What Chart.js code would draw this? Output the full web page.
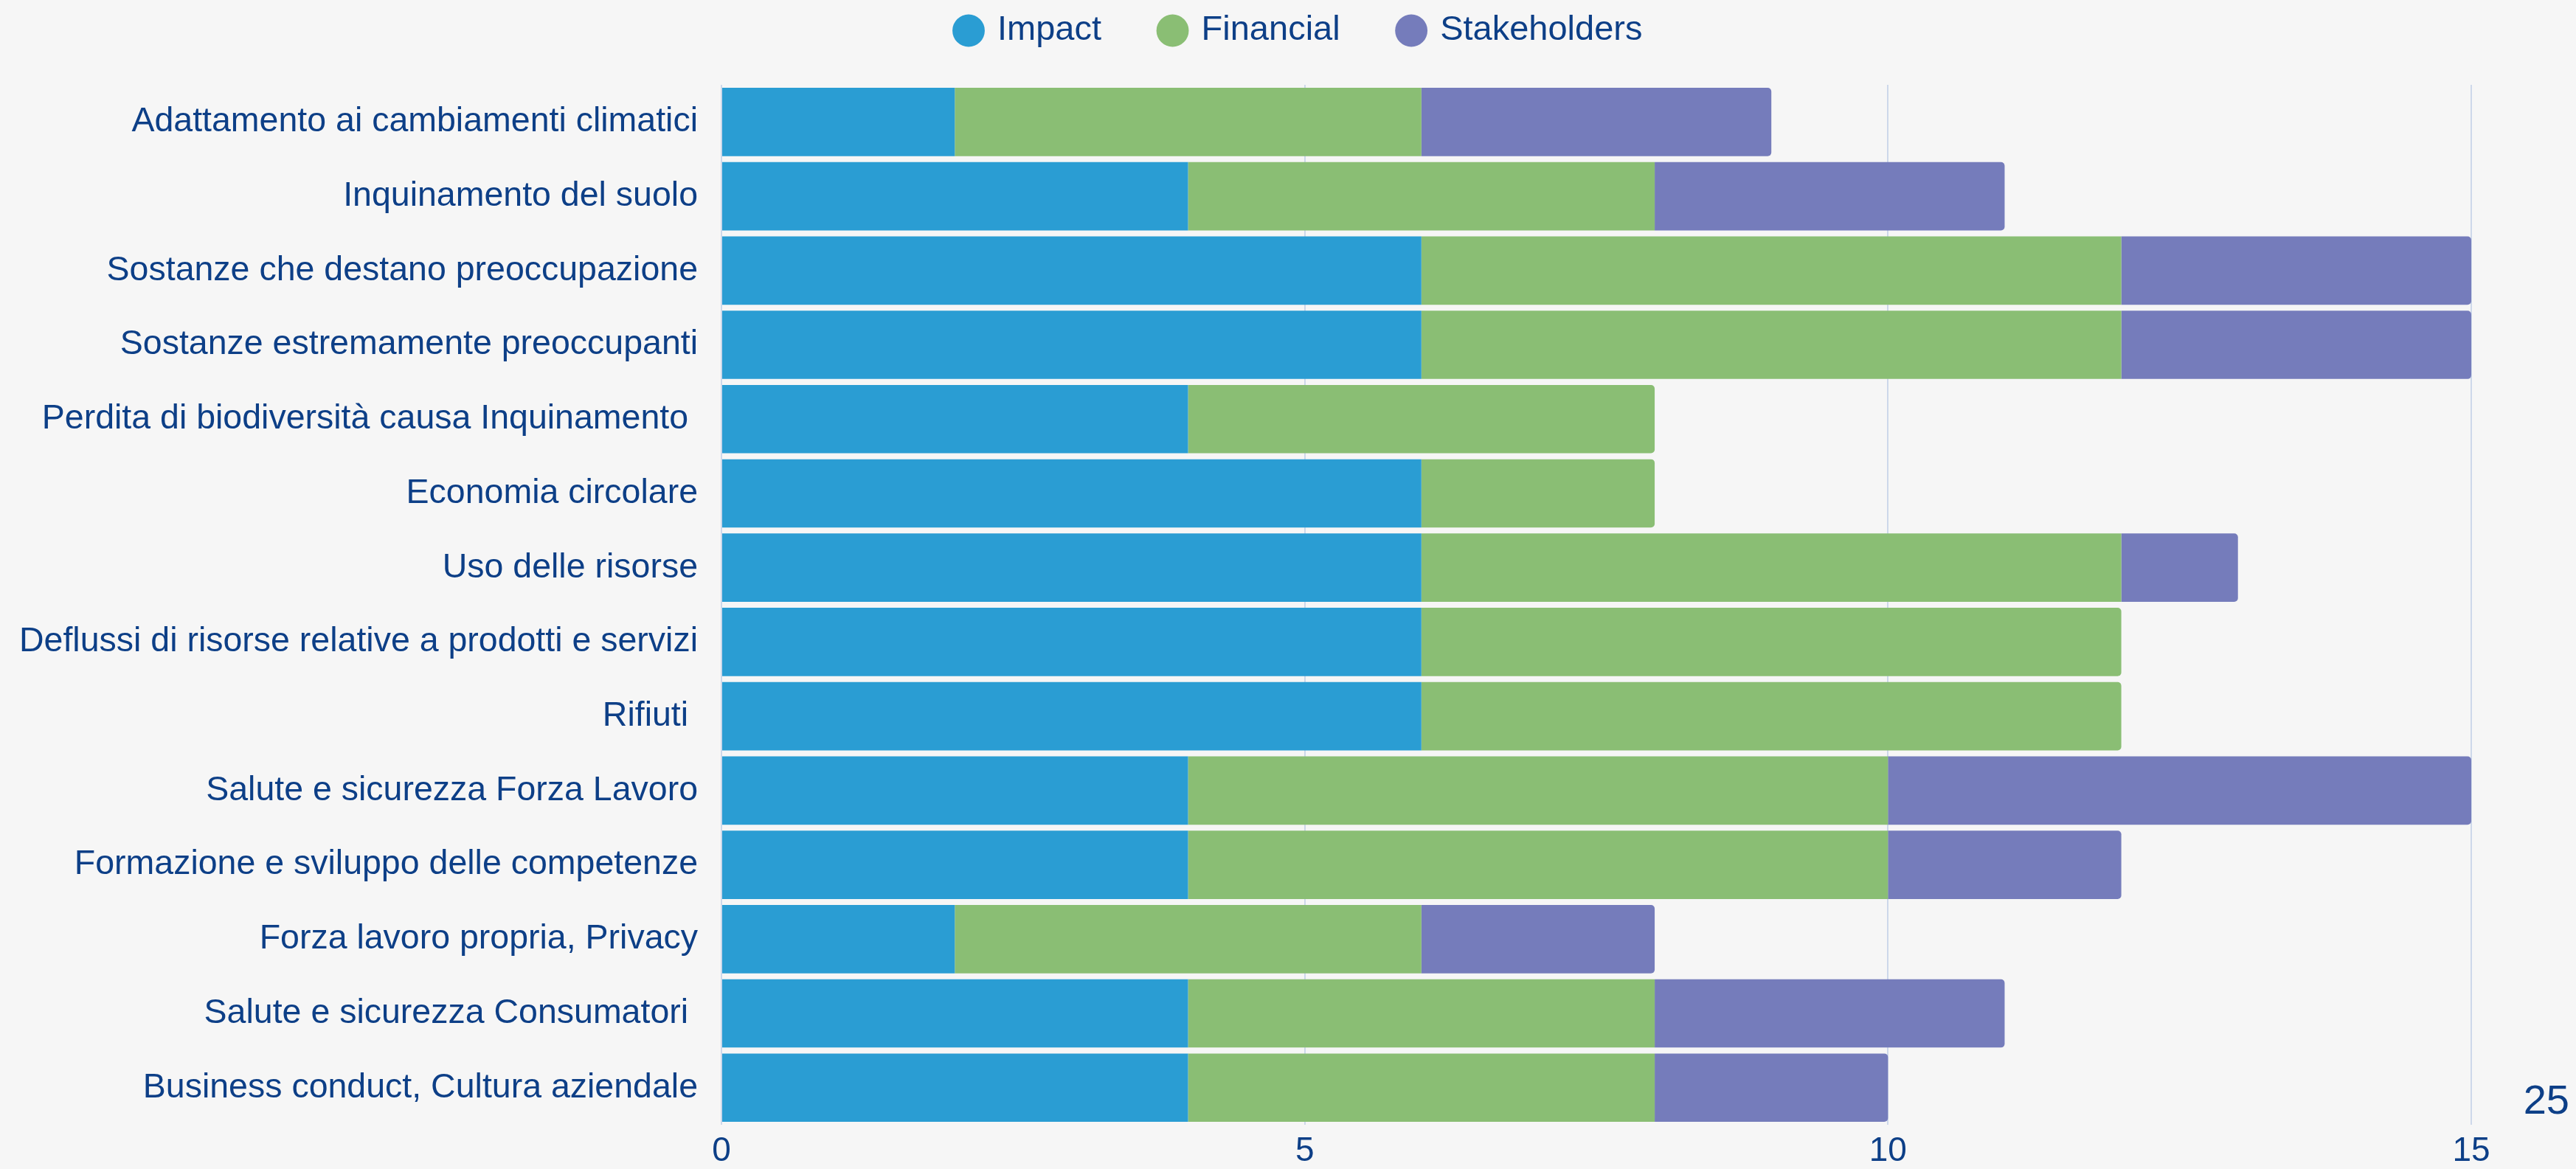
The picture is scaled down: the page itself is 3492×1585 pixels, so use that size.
<!DOCTYPE html>
<html>
<head>
<meta charset="utf-8">
<script src="https://cdn.jsdelivr.net/npm/chart.js@4.4.1/dist/chart.umd.min.js"></script>
<style>
  html, body { margin: 0; padding: 0; background: #f6f6f6; }
  #wrap { position: relative; width: 3492px; height: 1585px; }
  #page { position: absolute; right: 9px; top: 1463px; font: 56px "Liberation Sans", Arial, sans-serif; line-height: 1; color: #0d3f87; }
</style>
</head>
<body>
<div id="wrap">
  <canvas id="chart" width="3492" height="1585"></canvas>
  <div id="page">25</div>
</div>
<script>
const categories = [
  'Adattamento ai cambiamenti climatici',
  'Inquinamento del suolo',
  'Sostanze che destano preoccupazione',
  'Sostanze estremamente preoccupanti',
  'Perdita di biodiversità causa Inquinamento ',
  'Economia circolare',
  'Uso delle risorse',
  'Deflussi di risorse relative a prodotti e servizi',
  'Rifiuti ',
  'Salute e sicurezza Forza Lavoro',
  'Formazione e sviluppo delle competenze',
  'Forza lavoro propria, Privacy',
  'Salute e sicurezza Consumatori ',
  'Business conduct, Cultura aziendale'
];
const impact       = [2, 4, 6, 6, 4, 6, 6, 6, 6, 4, 4, 2, 4, 4];
const financial    = [4, 4, 6, 6, 4, 2, 6, 6, 6, 6, 6, 4, 4, 4];
const stakeholders = [3, 3, 3, 3, 0, 0, 1, 0, 0, 5, 2, 2, 3, 2];
const xTicks = [0, 5, 10, 15];

const textColor = '#0d3f87';
const fontFamily = '"Liberation Sans", Arial, sans-serif';

// legend: fixed height; items drawn higher and centred over the plot
const legendSpacing = {
  id: 'legendSpacing',
  beforeInit(chart) {
    const lg = chart.legend;
    const fit = lg.fit;
    lg.fit = function () { fit.call(lg); this.height = 115; };
    const draw = lg.draw;
    lg.draw = function () {
      const { top, left, right } = lg;
      lg.top = top - 63;
      lg.left = left + 87;
      lg.right = right + 87;
      draw.call(lg);
      lg.top = top; lg.left = left; lg.right = right;
    };
  }
};

new Chart(document.getElementById('chart').getContext('2d'), {
  type: 'bar',
  data: {
    labels: categories,
    datasets: [
      { label: 'Impact', data: impact, backgroundColor: '#2a9dd3' },
      { label: 'Financial', data: financial, backgroundColor: '#8abe74' },
      { label: 'Stakeholders', data: stakeholders, backgroundColor: '#757cbb' }
    ]
  },
  options: {
    responsive: false,
    animation: false,
    indexAxis: 'y',
    layout: { padding: { left: 0, right: 142, top: 0, bottom: 0 } },
    datasets: { bar: { barPercentage: 0.92, categoryPercentage: 1, borderRadius: 5 } },
    plugins: {
      legend: {
        position: 'top',
        labels: {
          usePointStyle: true, pointStyle: 'circle', boxWidth: 31, boxHeight: 31,
          padding: 81, color: textColor, font: { size: 47, family: fontFamily }
        }
      },
      tooltip: { enabled: false }
    },
    scales: {
      x: {
        stacked: true, min: 0, max: 15,
        afterBuildTicks: s => { s.ticks = xTicks.map(v => ({ value: v })); },
        ticks: { padding: 9, color: textColor, font: { size: 46, family: fontFamily } },
        grid: { color: '#cdd8ea', lineWidth: 2, drawTicks: false },
        border: { display: false },
        afterFit: s => { s.height = 56; }
      },
      y: {
        stacked: true,
        ticks: { padding: 32, color: textColor, font: { size: 46.5, family: fontFamily } },
        grid: { display: false, drawTicks: false },
        border: { display: false },
        afterFit: s => { s.width = 978; }
      }
    }
  },
  plugins: [legendSpacing]
});
</script>
</body>
</html>
